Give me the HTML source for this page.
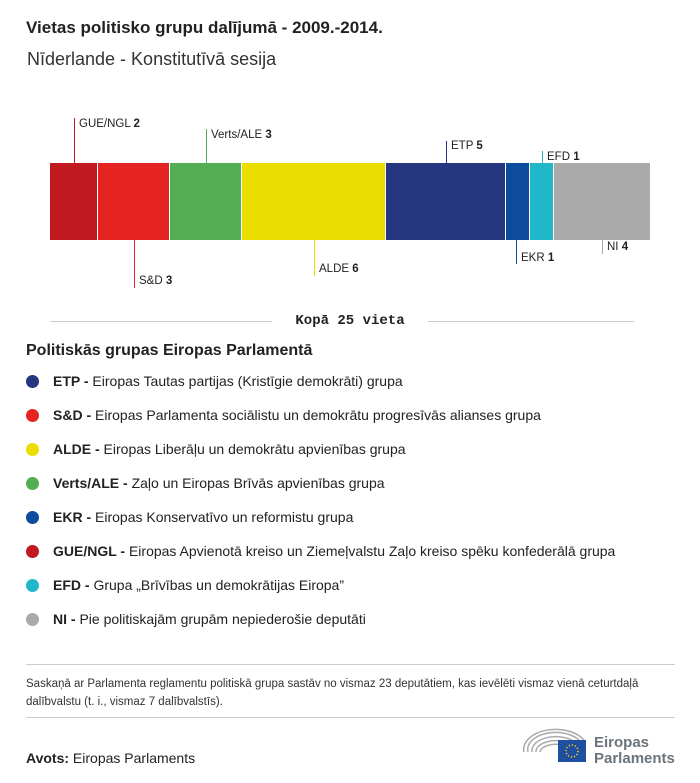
<!DOCTYPE html>
<html><head><meta charset="utf-8"><style>
body{margin:0;width:700px;height:783px;background:#fff;font-family:"Liberation Sans",sans-serif;color:#222;position:relative;overflow:hidden}
.a{position:absolute;white-space:nowrap}
.seg{position:absolute;top:163px;height:77px}
.vl{position:absolute;width:1px}
.lb{position:absolute;font-size:11.5px;white-space:nowrap;line-height:12px}
.dot{position:absolute;left:26px;width:13px;height:13px;border-radius:50%}
.lg{position:absolute;left:53px;font-size:14px;white-space:nowrap;line-height:16px}
</style></head><body>
<div class="a" style="left:26px;top:18px;font-size:17px;font-weight:bold">Vietas politisko grupu dalījumā - 2009.-2014.</div>
<div class="a" style="left:27px;top:49px;font-size:18px;color:#333">Nīderlande - Konstitutīvā sesija</div>

<div class="seg" style="left:50px;width:47px;background:#c0191f"></div>
<div class="seg" style="left:98px;width:71px;background:#e52421"></div>
<div class="seg" style="left:170px;width:71px;background:#52ad53"></div>
<div class="seg" style="left:242px;width:143px;background:#ecdd00"></div>
<div class="seg" style="left:386px;width:119px;background:#253780"></div>
<div class="seg" style="left:506px;width:23px;background:#0d4c9c"></div>
<div class="seg" style="left:530px;width:23px;background:#20b7c8"></div>
<div class="seg" style="left:554px;width:96px;background:#aaaaaa"></div>

<div class="vl" style="left:74px;top:118px;height:45px;background:#c0191f"></div><div class="lb" style="left:79px;top:118px">GUE/NGL <b>2</b></div>
<div class="vl" style="left:206px;top:129px;height:34px;background:#52ad53"></div><div class="lb" style="left:211px;top:129px">Verts/ALE <b>3</b></div>
<div class="vl" style="left:446px;top:141px;height:22px;background:#253780"></div><div class="lb" style="left:451px;top:140px">ETP <b>5</b></div>
<div class="vl" style="left:542px;top:151px;height:12px;background:#20b7c8"></div><div class="lb" style="left:547px;top:151px">EFD <b>1</b></div>
<div class="vl" style="left:134px;top:240px;height:48px;background:#e52421"></div><div class="lb" style="left:139px;top:275px">S&amp;D <b>3</b></div>
<div class="vl" style="left:314px;top:240px;height:36px;background:#ecdd00"></div><div class="lb" style="left:319px;top:263px">ALDE <b>6</b></div>
<div class="vl" style="left:516px;top:240px;height:24px;background:#0d4c9c"></div><div class="lb" style="left:521px;top:252px">EKR <b>1</b></div>
<div class="vl" style="left:602px;top:240px;height:14px;background:#aaa"></div><div class="lb" style="left:607px;top:241px">NI <b>4</b></div>

<div class="a" style="left:50px;top:321px;width:222px;height:1px;background:#ccc"></div>
<div class="a" style="left:428px;top:321px;width:206px;height:1px;background:#ccc"></div>
<div class="a" style="left:272px;top:313px;width:156px;text-align:center;font-family:'Liberation Mono',monospace;font-weight:bold;font-size:14px">Kopā 25 vieta</div>

<div class="a" style="left:26px;top:342px;font-size:16px;font-weight:bold">Politiskās grupas Eiropas Parlamentā</div>

<div class="dot" style="top:375px;background:#253780"></div><div class="lg" style="top:373px"><b>ETP -</b> Eiropas Tautas partijas (Kristīgie demokrāti) grupa</div>
<div class="dot" style="top:409px;background:#e52421"></div><div class="lg" style="top:407px"><b>S&amp;D -</b> Eiropas Parlamenta sociālistu un demokrātu progresīvās alianses grupa</div>
<div class="dot" style="top:443px;background:#ecdd00"></div><div class="lg" style="top:441px"><b>ALDE -</b> Eiropas Liberāļu un demokrātu apvienības grupa</div>
<div class="dot" style="top:477px;background:#52ad53"></div><div class="lg" style="top:475px"><b>Verts/ALE -</b> Zaļo un Eiropas Brīvās apvienības grupa</div>
<div class="dot" style="top:511px;background:#0d4c9c"></div><div class="lg" style="top:509px"><b>EKR -</b> Eiropas Konservatīvo un reformistu grupa</div>
<div class="dot" style="top:545px;background:#c0191f"></div><div class="lg" style="top:543px"><b>GUE/NGL -</b> Eiropas Apvienotā kreiso un Ziemeļvalstu Zaļo kreiso spēku konfederālā grupa</div>
<div class="dot" style="top:579px;background:#20b7c8"></div><div class="lg" style="top:577px"><b>EFD -</b> Grupa „Brīvības un demokrātijas Eiropa”</div>
<div class="dot" style="top:613px;background:#aaa"></div><div class="lg" style="top:611px"><b>NI -</b> Pie politiskajām grupām nepiederošie deputāti</div>

<div class="a" style="left:26px;top:664px;width:649px;height:1px;background:#ccc"></div>
<div class="a" style="left:26px;top:675px;font-size:11.5px;line-height:18px;white-space:normal;width:650px;color:#333">Saskaņā ar Parlamenta reglamentu politiskā grupa sastāv no vismaz 23 deputātiem, kas ievēlēti vismaz vienā ceturtdaļā dalībvalstu (t. i., vismaz 7 dalībvalstīs).</div>
<div class="a" style="left:26px;top:717px;width:649px;height:1px;background:#ccc"></div>
<div class="a" style="left:26px;top:750px;font-size:14px"><b>Avots:</b> Eiropas Parlaments</div>

<svg class="a" style="left:522px;top:728px" width="70" height="36" viewBox="0 0 70 36">
<g fill="none" stroke="#aaa" stroke-width="1.5">
<path d="M2 24 A32 20 0 0 1 62 12"/><path d="M6 24 A28 17 0 0 1 58 13"/><path d="M10 24 A24 14 0 0 1 54 15"/><path d="M14 24 A20 11 0 0 1 50 17"/><path d="M18 24 A16 8 0 0 1 46 19"/>
</g>
<rect x="36" y="12" width="28" height="22" fill="#1f4fa0"/>
<circle cx="50" cy="23" r="6" fill="none" stroke="#ffd700" stroke-width="1.5" stroke-dasharray="1.2 1.9"/>
</svg>
<div class="a" style="left:594px;top:735px;font-size:15px;font-weight:bold;color:#6b747b;line-height:16px">Eiropas<br>Parlaments</div>
</body></html>
